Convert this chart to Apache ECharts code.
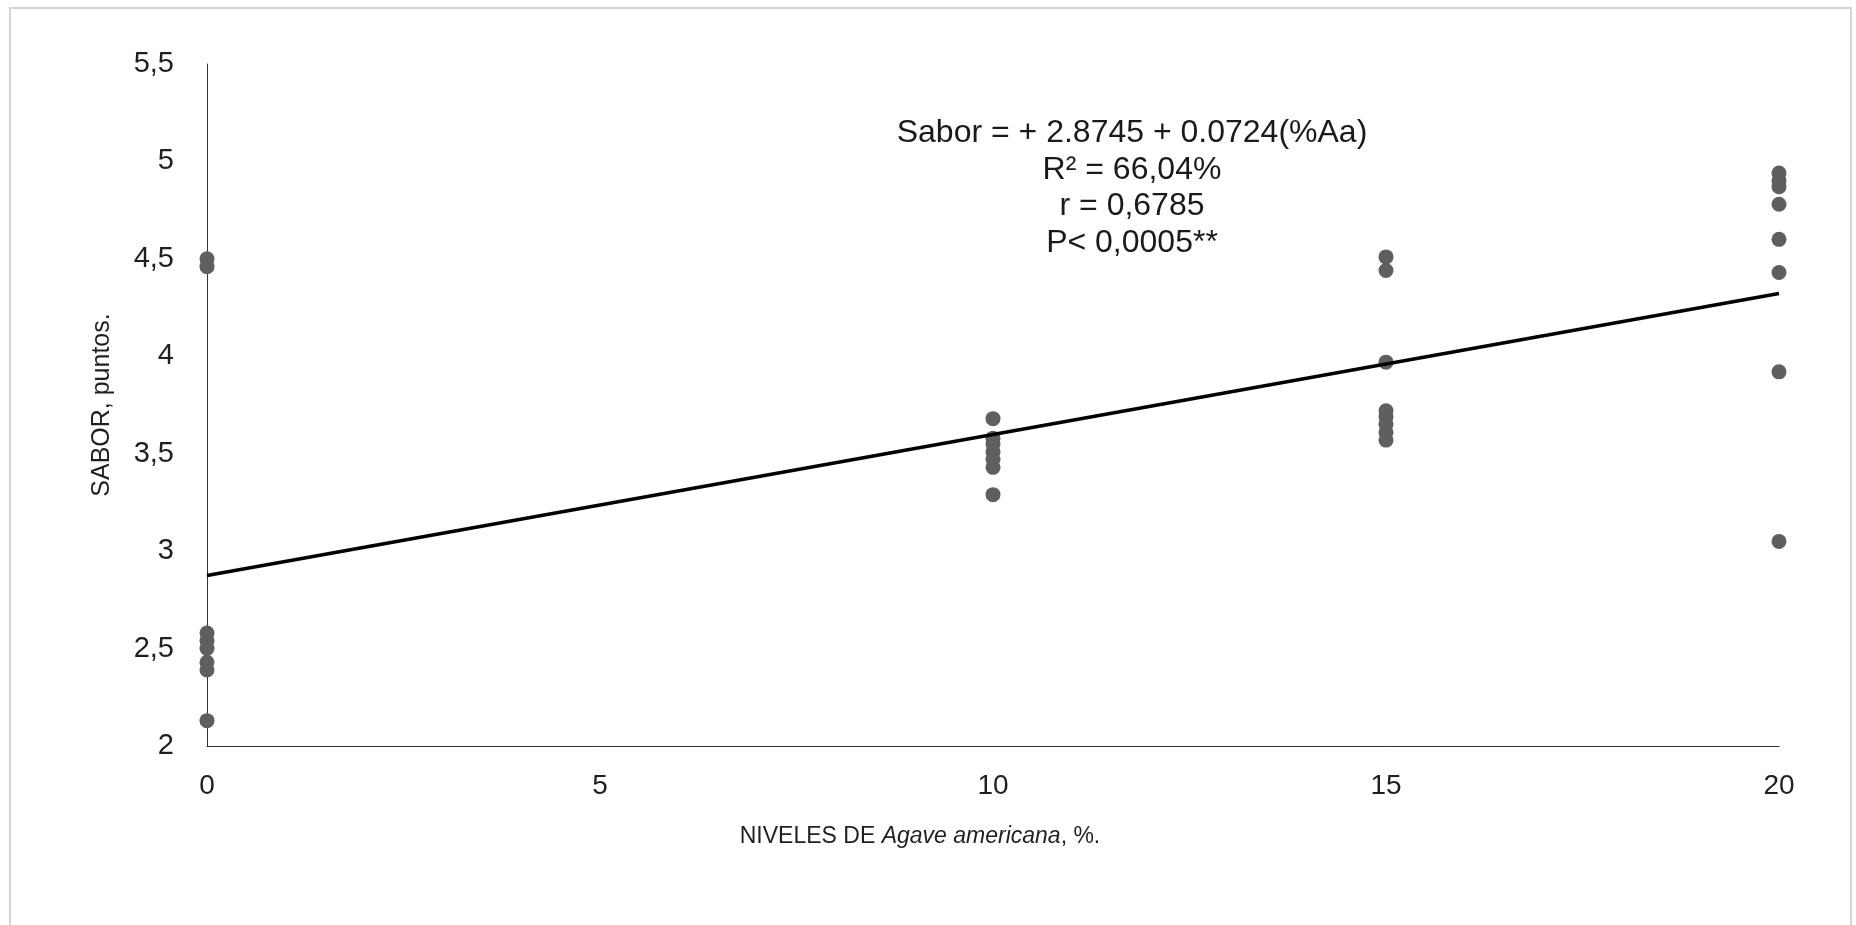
<!DOCTYPE html>
<html>
<head>
<meta charset="utf-8">
<script src="https://cdn.jsdelivr.net/npm/echarts@6/dist/echarts.min.js"></script>
<style>
html,body{margin:0;padding:0;background:#fff;}
#chart{width:1856px;height:925px;}
</style>
</head>
<body>
<div id="chart"></div>
<script>
// Data
const levels = [0, 10, 15, 20];
const sabor0 = [4.50, 4.46, 2.58, 2.54, 2.50, 2.43, 2.39, 2.13];
const sabor10 = [3.68, 3.58, 3.55, 3.51, 3.47, 3.43, 3.29];
const sabor15 = [4.51, 4.44, 3.97, 3.72, 3.69, 3.65, 3.61, 3.57];
const sabor20 = [4.94, 4.90, 4.87, 4.78, 4.60, 4.43, 3.92, 3.05];
const trendX = [0, 20];
const trendY = [2.8745, 4.3225];
const annotationLines = ['Sabor = + 2.8745 + 0.0724(%Aa)', 'R² = 66,04%', 'r = 0,6785', 'P< 0,0005**'];

const groups = [sabor0, sabor10, sabor15, sabor20];
const points = [];
groups.forEach((g, i) => g.forEach(v => points.push([levels[i], v])));
const trend = trendX.map((x, i) => [x, trendY[i]]);

const FONT = '"Liberation Sans", Arial, sans-serif';
const chart = echarts.init(document.getElementById('chart'), null, {renderer: 'canvas'});
chart.setOption({
  animation: false,
  backgroundColor: '#ffffff',
  grid: {left: 207, right: 77, top: 64, bottom: 179, containLabel: false},
  xAxis: {
    type: 'value', min: 0, max: 20, interval: 5,
    axisLine: {show: true, onZero: false, lineStyle: {color: '#333333', width: 1}},
    axisTick: {show: false},
    splitLine: {show: false},
    axisLabel: {color: '#1f1f1f', fontSize: 28, fontFamily: FONT, margin: 26},
    name: '{n|NIVELES DE }{i|Agave americana}{n|, %.}',
    nameLocation: 'middle',
    nameGap: 79,
    nameTextStyle: {
      padding: [0, 146, 0, 0],
      rich: {
        n: {fontSize: 23, fontFamily: FONT, color: '#1f1f1f'},
        i: {fontSize: 23, fontFamily: FONT, fontStyle: 'italic', color: '#1f1f1f'}
      }
    }
  },
  yAxis: {
    type: 'value', min: 2, max: 5.5, interval: 0.5,
    axisLine: {show: true, onZero: false, lineStyle: {color: '#333333', width: 1}},
    axisTick: {show: false},
    splitLine: {show: false},
    axisLabel: {
      color: '#1f1f1f', fontSize: 29, fontFamily: FONT, margin: 33,
      formatter: v => String(v).replace('.', ',')
    },
    name: 'SABOR, puntos.',
    nameLocation: 'middle',
    nameGap: 92,
    nameTextStyle: {fontSize: 25, fontFamily: FONT, color: '#1f1f1f'}
  },
  graphic: [
    {
      type: 'rect', silent: true, z: -10,
      shape: {x: 10, y: 8, width: 1841, height: 930},
      style: {fill: 'none', stroke: '#d4d4d4', lineWidth: 2}
    },
    {
      type: 'text', x: 1132, y: 188, z: 100,
      style: {
        text: annotationLines.join('\n'),
        align: 'center', verticalAlign: 'middle',
        font: '32px "Liberation Sans", Arial, sans-serif',
        lineHeight: 36.5,
        fill: '#1a1a1a'
      }
    }
  ],
  series: [
    {
      type: 'scatter', data: points, symbol: 'circle', symbolSize: 15,
      itemStyle: {color: '#5f5f5f', opacity: 1}, z: 2
    },
    {
      type: 'line', data: trend, symbol: 'none',
      lineStyle: {color: '#000000', width: 3.5}, z: 3
    }
  ]
});
</script>
</body>
</html>
